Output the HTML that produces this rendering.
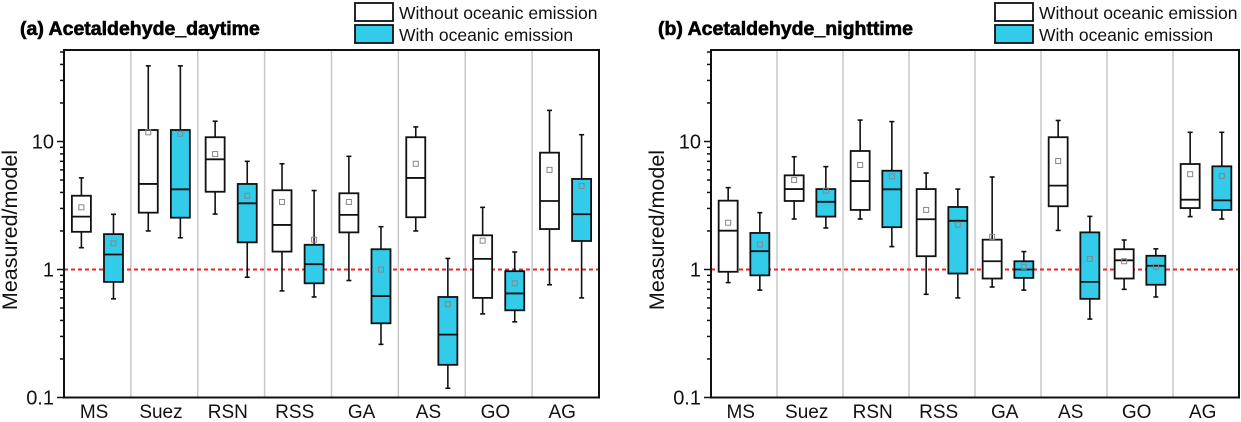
<!DOCTYPE html>
<html><head><meta charset="utf-8">
<style>
body{margin:0;background:#fff;width:1241px;height:422px;overflow:hidden;font-family:"Liberation Sans",Arial,sans-serif;}
svg{display:block}
</style></head>
<body>
<svg id="chart" width="1241" height="422" xmlns="http://www.w3.org/2000/svg"></svg>
<script>
const categories = ["MS","Suez","RSN","RSS","GA","AS","GO","AG"];
const yTicks = [0.1, 1, 10];
const yTickLabels = ["0.1","1","10"];
// panel a (daytime): [low, q1, median, q3, high, mean]
const dayWithout = [
 [1.48,1.97,2.59,3.77,5.2,3.06],[2.0,2.78,4.66,12.3,39,11.8],[2.71,4.05,7.26,10.8,14.4,7.98],[0.68,1.38,2.23,4.16,6.7,3.37],
 [0.82,1.95,2.67,3.94,7.66,3.37],[2.0,2.56,5.19,10.8,13.0,6.7],[0.45,0.60,1.21,1.85,3.06,1.68],[0.76,2.07,3.43,8.18,17.5,6.0]];
const dayWith = [
 [0.59,0.8,1.31,1.89,2.7,1.6],[1.77,2.54,4.23,12.3,39,11.5],[0.87,1.63,3.29,4.66,7.0,3.77],[0.61,0.78,1.10,1.56,4.14,1.71],
 [0.26,0.38,0.62,1.44,2.16,1.0],[0.118,0.18,0.31,0.61,1.22,0.535],[0.39,0.48,0.65,0.97,1.37,0.78],[0.60,1.67,2.7,5.1,11.3,4.49]];
// panel b (nighttime)
const nightWithout = [
 [0.79,0.96,2.01,3.45,4.36,2.32],[2.48,3.43,4.25,5.44,7.6,5.0],[2.48,2.92,4.91,8.43,14.7,6.55],[0.64,1.27,2.47,4.25,5.67,2.92],
 [0.73,0.85,1.16,1.71,5.28,1.8],[2.02,3.12,4.52,10.8,14.6,7.04],[0.70,0.85,1.18,1.44,1.7,1.16],[2.59,3.02,3.51,6.67,11.8,5.55]];
const nightWith = [
 [0.69,0.90,1.39,1.93,2.78,1.57],[2.11,2.59,3.38,4.25,6.36,4.13],[1.51,2.14,4.23,5.91,14.3,5.35],[0.60,0.93,2.4,3.08,4.25,2.24],
 [0.69,0.86,1.0,1.16,1.38,1.05],[0.41,0.59,0.80,1.95,2.6,1.21],[0.61,0.76,1.07,1.28,1.45,1.05],[2.48,2.92,3.47,6.4,11.8,5.38]];

const svg=document.getElementById('chart');
const NS="http://www.w3.org/2000/svg";
function mk(tag,attrs,parent){const e=document.createElementNS(NS,tag);for(const k in attrs)e.setAttribute(k,attrs[k]);(parent||svg).appendChild(e);return e;}
const CYAN="#33cbea";
const Y1=269.5, DEC=128, TOP=50, BOT=397.5;
function yScale(v){return Y1-Math.log10(v)*DEC;}

function panel(px,left,right,title,titleX,legX,sWithout,sWith){
  const g=mk('g',{});
  
  
  const cw=(right-left)/categories.length;
  const xScale=(i,off)=>left+cw*(i+off);
  for(let i=1;i<categories.length;i++){
    const l=mk('line',{x1:left+cw*i,x2:left+cw*i,y1:TOP,y2:BOT,stroke:'#c8c8c8','stroke-width':1.5},g);
    
    
  }
  const rl=mk('line',{x1:left,x2:right,y1:yScale(1),y2:yScale(1),stroke:'#e8262a','stroke-width':2,'stroke-dasharray':'4,3'},g);
  
  
  function box(d,i,off,fill,name){
    const cx=xScale(i,off), hw=9.5, bg=mk('g',{},g);
    
    
    mk('line',{x1:cx,x2:cx,y1:yScale(d[4]),y2:yScale(d[3]),stroke:'#111','stroke-width':1.6},bg);
    mk('line',{x1:cx,x2:cx,y1:yScale(d[1]),y2:yScale(d[0]),stroke:'#111','stroke-width':1.6},bg);
    mk('line',{x1:cx-2.5,x2:cx+2.5,y1:yScale(d[4]),y2:yScale(d[4]),stroke:'#111','stroke-width':1.6},bg);
    mk('line',{x1:cx-2.5,x2:cx+2.5,y1:yScale(d[0]),y2:yScale(d[0]),stroke:'#111','stroke-width':1.6},bg);
    mk('rect',{x:cx-hw,y:yScale(d[3]),width:hw*2,height:yScale(d[1])-yScale(d[3]),fill:fill,stroke:'#111','stroke-width':1.8},bg);
    mk('line',{x1:cx-hw,x2:cx+hw,y1:yScale(d[2]),y2:yScale(d[2]),stroke:'#111','stroke-width':1.8},bg);
    mk('rect',{x:cx-2.5,y:yScale(d[5])-2.5,width:5,height:5,fill:'none',stroke:'#888','stroke-width':1},bg);
  }
  for(let i=0;i<categories.length;i++){
    box(sWithout[i],i,0.26,'#fff','box-without');
    box(sWith[i],i,0.74,CYAN,'box-with');
    const t=mk('text',{x:xScale(i,0.45),y:418,'font-size':19,'text-anchor':'middle',fill:'#111'},g);
    t.textContent=categories[i];
    
    
  }
  const fr=mk('rect',{x:left,y:TOP,width:right-left,height:BOT-TOP,fill:'none',stroke:'#111','stroke-width':2},g);
  
  
  for(let e=-1;e<=1;e++){
    for(let m=1;m<=9;m++){
      const v=m*Math.pow(10,e), y=yScale(v);
      if(y<TOP) continue;
      mk('line',{x1:left-(m==1?7:4),x2:left,y1:y,y2:y,stroke:'#111','stroke-width':1.5},g);
    }
  }
  yTicks.forEach((v,k)=>{
    const t=mk('text',{x:left-10,y:yScale(v)+7,'font-size':20,'text-anchor':'end',fill:'#111'},g);
    t.textContent=yTickLabels[k];
    
    
  });
  const yl=mk('text',{x:0,y:0,'font-size':21.5,'text-anchor':'middle',fill:'#111',transform:`translate(${left-47},230) rotate(-90)`},g);
  yl.textContent='Measured/model';
  
  
  const tt=mk('text',{x:titleX,y:35,'font-size':19.5,'font-weight':'bold',fill:'#000',stroke:'#000','stroke-width':0.6},g);
  tt.textContent=title;
  
  
  const lg=mk('g',{},g);
  
  
  mk('rect',{x:legX,y:3,width:38,height:18,fill:'#fff',stroke:'#111','stroke-width':1.8},lg);
  mk('rect',{x:legX,y:25,width:38,height:18,fill:CYAN,stroke:'#111','stroke-width':1.8},lg);
  const l1=mk('text',{x:legX+44,y:19,'font-size':17.5,fill:'#111'},lg);
  l1.textContent='Without oceanic emission';
  
  
  const l2=mk('text',{x:legX+44,y:41,'font-size':17.5,fill:'#111'},lg);
  l2.textContent='With oceanic emission';
  
  
}
panel('a',64,599,'(a) Acetaldehyde_daytime',20,355,dayWithout,dayWith);
panel('b',711,1239,'(b) Acetaldehyde_nighttime',658,995,nightWithout,nightWith);
</script>
</body></html>
